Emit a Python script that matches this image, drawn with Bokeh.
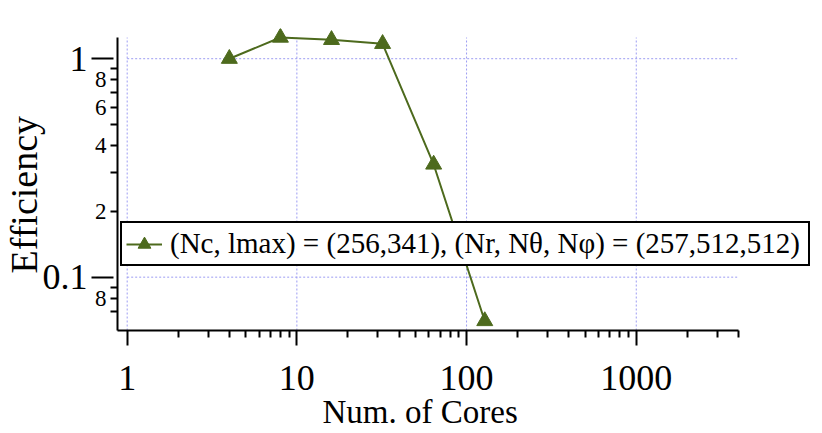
from bokeh.plotting import figure
from bokeh.models import LogAxis, FixedTicker, Legend, LegendItem, Range1d, Title
from bokeh.embed import file_html
from bokeh.resources import INLINE

# ---- data ----
cores = [4, 8, 16, 32, 64, 128]
efficiency = [1.0, 1.25, 1.22, 1.17, 0.328, 0.063]

x_major = [1, 10, 100, 1000]
x_labels = ["1", "10", "100", "1000"]
x_minor = [2, 3, 4, 5, 6, 7, 8, 9, 20, 30, 40, 50, 60, 70, 80, 90,
           200, 300, 400, 500, 600, 700, 800, 900, 2000, 3000, 4000]

y_big_ticks = [0.1, 1.0]
y_big_labels = ["0.1", "1"]
y_small_ticks = [0.08, 0.2, 0.4, 0.6, 0.8]
y_small_labels = ["8", "2", "4", "6", "8"]
y_minor = [0.07, 0.09, 0.3, 0.5, 0.7, 0.9]

x_title = "Num. of Cores"
y_title = "Efficiency"
legend_label = "(Nc, lmax) = (256,341), (Nr, Nθ, Nφ) = (257,512,512)"

# axis extents (data units)
X_MIN, X_MAX = 0.877, 4000
Y_MIN, Y_MAX = 0.057, 1.25

GREEN = "#4d6a1d"
GRID = "#9c9cf2"
FONT = "Liberation Serif"

p = figure(width=820, height=433, x_axis_type="log", y_axis_type="log",
           x_range=Range1d(X_MIN, 10930), y_range=Range1d(Y_MIN, 1.375),
           output_backend="svg", toolbar_location=None,
           min_border_left=117, min_border_right=8, min_border_top=28,
           min_border_bottom=103)
p.outline_line_color = None
p.xgrid.visible = False
p.ygrid.visible = False

# x axis
xa = p.xaxis[0]
xa.bounds = (X_MIN, X_MAX)
xa.ticker = FixedTicker(ticks=x_major, minor_ticks=x_minor)
xa.major_label_overrides = dict(zip(x_major, x_labels))
xa.major_tick_out = 15
xa.major_tick_in = 0
xa.minor_tick_out = 7
xa.minor_tick_in = 0
xa.axis_line_width = 2
xa.major_tick_line_width = 2
xa.minor_tick_line_width = 2
xa.major_label_text_font = FONT
xa.major_label_text_font_size = "36px"
xa.major_label_text_color = "black"
xa.major_label_standoff = 20

# x-axis title, placed like the reference (left of the frame centre)
xt = Title(text=x_title, align="left", offset=205, standoff=-2,
           text_font=FONT, text_font_size="33px", text_font_style="normal",
           text_color="black")
p.add_layout(xt, "below")

# inner y axis (small labels, short ticks)
ya = p.yaxis[0]
ya.bounds = (Y_MIN, Y_MAX)
ya.ticker = FixedTicker(ticks=y_small_ticks, minor_ticks=y_minor)
ya.major_label_overrides = dict(zip(y_small_ticks, y_small_labels))
ya.major_tick_out = 7
ya.major_tick_in = 0
ya.minor_tick_out = 7
ya.minor_tick_in = 0
ya.axis_line_width = 2
ya.major_tick_line_width = 2
ya.minor_tick_line_width = 2
ya.major_label_text_font = FONT
ya.major_label_text_font_size = "23px"
ya.major_label_text_color = "black"
ya.major_label_standoff = 4

# outer y axis (decade labels, long ticks)
yb = LogAxis(ticker=FixedTicker(ticks=y_big_ticks, minor_ticks=[]),
             bounds=(Y_MIN, Y_MAX))
yb.major_label_overrides = dict(zip(y_big_ticks, y_big_labels))
yb.axis_line_color = None
yb.major_tick_out = 0
yb.major_tick_in = 22
yb.minor_tick_out = 0
yb.minor_tick_in = 0
yb.major_tick_line_width = 2
yb.major_label_text_font = FONT
yb.major_label_text_font_size = "36px"
yb.major_label_text_color = "black"
yb.major_label_standoff = 4
p.add_layout(yb, "left")

# y-axis title as the outermost left element
yt = Title(text=y_title, align="left", offset=57, standoff=-15,
           vertical_align="top",
           text_font=FONT, text_font_size="38px", text_font_style="normal",
           text_color="black")
p.add_layout(yt, "left")

# dotted grid lines at the decades, spanning the axes' extents
p.segment(x0=[x_major[0]] * len(y_big_ticks), y0=y_big_ticks,
          x1=[X_MAX] * len(y_big_ticks), y1=y_big_ticks,
          line_color=GRID, line_dash="2 2", line_width=1)
p.segment(x0=x_major, y0=[Y_MIN] * len(x_major),
          x1=x_major, y1=[Y_MAX] * len(x_major),
          line_color=GRID, line_dash="2 2", line_width=1)

# data
ln = p.line(cores, efficiency, line_color=GREEN, line_width=2)
sc = p.scatter(cores, efficiency, marker="triangle", size=16,
               fill_color=GREEN, line_color=GREEN)

legend = Legend(items=[LegendItem(label=legend_label, renderers=[ln, sc])],
                location=(3, 64))
legend.label_text_font = FONT
legend.label_text_font_size = "29px"
legend.label_text_color = "black"
legend.border_line_color = "black"
legend.border_line_alpha = 1
legend.border_line_width = 2
legend.background_fill_alpha = 1
legend.padding = 4
legend.margin = 0
legend.spacing = 0
legend.glyph_width = 36
legend.glyph_height = 32
legend.label_standoff = 8
legend.label_width = 634
p.add_layout(legend, "center")

open("out.html", "w").write(file_html(p, INLINE))
